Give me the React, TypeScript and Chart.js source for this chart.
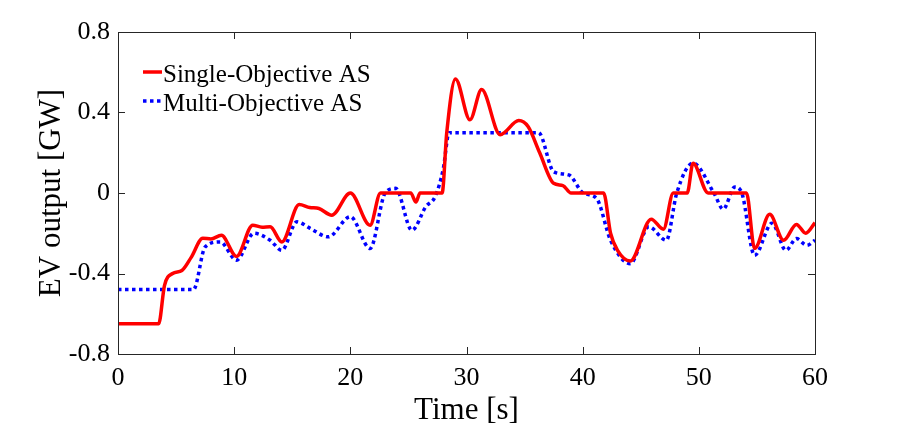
import { useEffect, useRef } from "react";
import Chart from "chart.js/auto";

// Single-Objective AS (red solid)
const singleTime = [
  0, 3.5, 4.0, 4.7, 5.5, 6.3, 7.3, 8.0, 8.9, 10.2, 11.6, 12.4, 13.1, 14.1, 15.6,
  16.5, 17.3, 18.4, 20.0, 21.7, 22.6, 25.2, 25.65, 26.0, 27.9, 28.3, 29.05, 30.3,
  31.3, 32.9, 34.5, 35.3, 36.3, 37.5, 38.3, 39.0, 41.8, 42.4, 43.0, 44.1, 45.9,
  46.95, 47.8, 49.0, 49.5, 50.8, 54.1, 54.8, 56.1, 57.3, 58.4, 59.2, 60,
];
const singleValues = [
  -0.65, -0.65, -0.46, -0.4, -0.385, -0.32, -0.225, -0.228, -0.21, -0.315, -0.16,
  -0.17, -0.168, -0.243, -0.057, -0.072, -0.077, -0.11, 0, -0.16, 0, 0, -0.045, 0,
  0, 0.3, 0.567, 0.364, 0.514, 0.29, 0.36, 0.33, 0.2, 0.048, 0.037, 0, 0, -0.2,
  -0.285, -0.338, -0.13, -0.18, 0, 0, 0.148, 0, 0, -0.276, -0.106, -0.235, -0.156,
  -0.2, -0.148,
];

// Multi-Objective AS (blue dotted)
const multiTime = [
  0, 6.5, 7.5, 8.8, 10.2, 11.7, 13.1, 14.1, 15.4, 16.55, 18.1, 20.0, 21.7, 23.0,
  23.9, 25.3, 26.5, 27.3, 28.0, 28.5, 36.2, 37.5, 38.8, 40.05, 41.2, 42.4, 44.1,
  45.7, 47.2, 48.1, 49.5, 51.3, 52.1, 53.1, 53.7, 54.8, 56.3, 57.5, 58.4, 59.3, 60,
];
const multiValues = [
  -0.48, -0.48, -0.268, -0.243, -0.334, -0.2, -0.235, -0.285, -0.143, -0.176,
  -0.218, -0.118, -0.276, 0, 0.023, -0.185, -0.068, -0.018, 0.12, 0.3, 0.3, 0.106,
  0.09, 0, -0.027, -0.235, -0.351, -0.168, -0.235, 0, 0.148, 0, -0.08, 0.03, 0,
  -0.31, -0.15, -0.285, -0.226, -0.26, -0.235,
];

const seriesNames = ["Single-Objective AS", "Multi-Objective AS"];
const xTicks = [0, 10, 20, 30, 40, 50, 60];
const yTicks = [-0.8, -0.4, 0, 0.4, 0.8];

const FONT = "'Liberation Serif', 'Times New Roman', serif";
const AXIS = "#262626";

const toPoints = (t: number[], v: number[]) => t.map((x, i) => ({ x, y: v[i] }));

// box around the plot, inward ticks on all four sides, and the legend
const framePlugin = {
  id: "frame",
  afterDraw(chart: any) {
    const { ctx, chartArea: a, scales } = chart;
    const len = 7;
    ctx.save();
    ctx.strokeStyle = AXIS;
    ctx.lineWidth = 1;
    ctx.strokeRect(a.left + 0.5, a.top + 0.5, a.right - a.left, a.bottom - a.top);
    ctx.beginPath();
    xTicks.forEach((t) => {
      const px = Math.round(scales.x.getPixelForValue(t)) + 0.5;
      ctx.moveTo(px, a.bottom);
      ctx.lineTo(px, a.bottom - len);
      ctx.moveTo(px, a.top);
      ctx.lineTo(px, a.top + len);
    });
    yTicks.forEach((t) => {
      const py = Math.round(scales.y.getPixelForValue(t)) + 0.5;
      ctx.moveTo(a.left, py);
      ctx.lineTo(a.left + len, py);
      ctx.moveTo(a.right, py);
      ctx.lineTo(a.right - len, py);
    });
    ctx.stroke();

    // legend
    const ds = chart.data.datasets;
    ctx.font = `25px ${FONT}`;
    ctx.textBaseline = "alphabetic";
    ds.forEach((d: any, i: number) => {
      const y = a.top + 40 + i * 29;
      ctx.beginPath();
      ctx.strokeStyle = d.borderColor;
      ctx.lineWidth = d.borderWidth;
      ctx.setLineDash(d.borderDash || []);
      ctx.moveTo(143, y);
      ctx.lineTo(162, y);
      ctx.stroke();
      ctx.setLineDash([]);
      ctx.fillStyle = "#000";
      ctx.fillText(seriesNames[i], 163, y + 10);
    });
    ctx.restore();
  },
};

const App = () => {
  const canvasRef = useRef<HTMLCanvasElement | null>(null);
  const chartRef = useRef<Chart | null>(null);

  useEffect(() => {
    document.body.style.margin = "0";
    if (!canvasRef.current) return;
    if (chartRef.current) chartRef.current.destroy();

    chartRef.current = new Chart(canvasRef.current, {
      type: "line",
      data: {
        datasets: [
          {
            label: seriesNames[0],
            data: toPoints(singleTime, singleValues),
            borderColor: "#ff0000",
            borderWidth: 3.5,
            pointRadius: 0,
            cubicInterpolationMode: "monotone",
          },
          {
            label: seriesNames[1],
            data: toPoints(multiTime, multiValues),
            borderColor: "#0000ff",
            borderWidth: 3.5,
            borderDash: [3.5, 3.5],
            borderCapStyle: "butt",
            pointRadius: 0,
            cubicInterpolationMode: "monotone",
          },
        ],
      },
      options: {
        responsive: false,
        animation: false,
        layout: { padding: { left: 0, top: 32, right: 85, bottom: 0 } },
        plugins: { legend: { display: false }, tooltip: { enabled: false } },
        scales: {
          x: {
            type: "linear",
            min: 0,
            max: 60,
            afterBuildTicks: (s: any) => {
              s.ticks = xTicks.map((value) => ({ value }));
            },
            afterFit: (s: any) => {
              s.height = 74;
            },
            grid: { display: false, drawTicks: false },
            border: { display: false },
            ticks: {
              padding: 9,
              color: "#000",
              font: { family: FONT, size: 26 },
              maxRotation: 0,
            },
            title: {
              display: true,
              text: "Time [s]",
              color: "#000",
              font: { family: FONT, size: 31, lineHeight: 1 },
              padding: { top: 0, bottom: 2 },
            },
          },
          y: {
            min: -0.8,
            max: 0.8,
            afterBuildTicks: (s: any) => {
              s.ticks = yTicks.map((value) => ({ value }));
            },
            afterFit: (s: any) => {
              s.width = 118;
            },
            grid: { display: false, drawTicks: false },
            border: { display: false },
            ticks: {
              padding: 8,
              color: "#000",
              font: { family: FONT, size: 26 },
              callback: (v: any) => (v === 0 ? "0" : Number(v).toFixed(1)),
            },
            title: {
              display: true,
              text: "EV output [GW]",
              color: "#000",
              font: { family: FONT, size: 31, lineHeight: 1 },
              padding: { top: 36, bottom: 0 },
            },
          },
        },
      },
      plugins: [framePlugin],
    } as any);

    return () => {
      chartRef.current?.destroy();
    };
  }, []);

  return (
    <div style={{ width: 900, height: 428, background: "#fff" }}>
      <canvas ref={canvasRef} width={900} height={428} />
    </div>
  );
};

export default App;
